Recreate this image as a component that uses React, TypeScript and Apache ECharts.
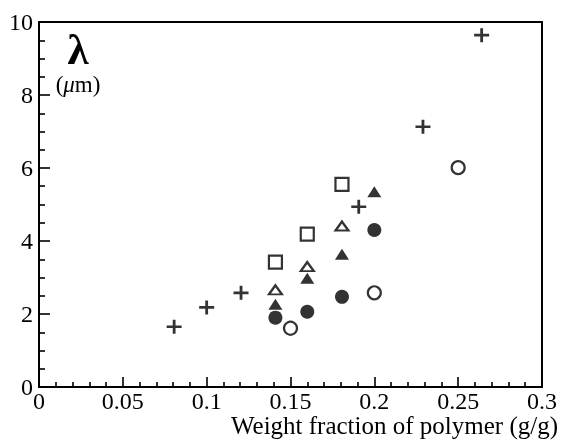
import React, { useEffect, useRef } from "react";
import * as echarts from "echarts";

// Plus markers
const plusX = [0.0806, 0.1, 0.1205, 0.1907, 0.229, 0.264];
const plusY = [1.65, 2.18, 2.58, 4.94, 7.13, 9.64];
// Open circles
const openCircleX = [0.15, 0.2, 0.25];
const openCircleY = [1.61, 2.58, 6.01];
// Filled circles
const filledCircleX = [0.141, 0.16, 0.1807, 0.2];
const filledCircleY = [1.9, 2.06, 2.47, 4.3];
// Filled triangles
const filledTriX = [0.141, 0.16, 0.1807, 0.2];
const filledTriY = [2.27, 2.98, 3.64, 5.35];
// Open triangles
const openTriX = [0.141, 0.16, 0.1807];
const openTriY = [2.66, 3.3, 4.41];
// Open squares
const openSquareX = [0.141, 0.16, 0.1807];
const openSquareY = [3.42, 4.19, 5.55];

const xMin = 0;
const xMax = 0.3;
const xStep = 0.05;
const yMin = 0;
const yMax = 10;
const yStep = 2;

const xTitle = "Weight fraction of polymer (g/g)";
const yTitleSymbol = "λ";

const FONT = "Liberation Serif";
const PLUS = "path://M6.5,0H9.5V6.5H16V9.5H9.5V16H6.5V9.5H0V6.5H6.5Z";

const pts = (xs: number[], ys: number[]) => xs.map((x, i) => [x, ys[i]]);

export default function App() {
  const ref = useRef<HTMLDivElement>(null);
  useEffect(() => {
    if (!ref.current) return;
    const chart = echarts.init(ref.current, undefined, { renderer: "svg" });
    const open = { color: "#fff", borderColor: "#000", borderWidth: 2.2 };
    const filled = { color: "#000" };
    const line = { show: true, onZero: false, lineStyle: { color: "#000", width: 2 } };
    const tickStyle = { color: "#000", width: 1.6 };
    chart.setOption({
      animation: false,
      grid: { left: 39, right: 19, top: 22, bottom: 53 },
      xAxis: [
        {
          type: "value",
          min: xMin,
          max: xMax,
          interval: xStep,
          axisLine: line,
          axisTick: { show: true, inside: true, length: 10, lineStyle: tickStyle },
          minorTick: { show: true, splitNumber: 5, length: 5, lineStyle: tickStyle },
          splitLine: { show: false },
          minorSplitLine: { show: false },
          axisLabel: { color: "#000", fontFamily: FONT, fontSize: 24, lineHeight: 20, margin: 4 },
        },
        {
          type: "value",
          position: "top",
          min: xMin,
          max: xMax,
          interval: xStep,
          axisLine: line,
          axisTick: { show: false },
          splitLine: { show: false },
          axisLabel: { show: false },
        },
      ],
      yAxis: [
        {
          type: "value",
          min: yMin,
          max: yMax,
          interval: yStep,
          axisLine: line,
          axisTick: { show: true, inside: true, length: 11, lineStyle: tickStyle },
          minorTick: { show: true, splitNumber: 4, length: 6, lineStyle: tickStyle },
          splitLine: { show: false },
          minorSplitLine: { show: false },
          axisLabel: { color: "#000", fontFamily: FONT, fontSize: 24, margin: 6 },
        },
        {
          type: "value",
          position: "right",
          min: yMin,
          max: yMax,
          interval: yStep,
          axisLine: line,
          axisTick: { show: false },
          splitLine: { show: false },
          axisLabel: { show: false },
        },
      ],
      graphic: [
        {
          type: "text",
          x: 558,
          y: 425,
          style: {
            text: xTitle,
            fontFamily: FONT,
            fontSize: 25,
            lineHeight: 22,
            fill: "#000",
            align: "right",
            verticalAlign: "middle",
          },
        },
        {
          type: "text",
          x: 78,
          y: 49,
          style: {
            text: yTitleSymbol,
            fontFamily: FONT,
            fontSize: 43,
            fontWeight: "bold",
            fill: "#000",
            align: "center",
            verticalAlign: "middle",
          },
        },
        {
          type: "text",
          x: 78,
          y: 84,
          style: {
            rich: {
              n: { fontFamily: FONT, fontSize: 23, fill: "#000" },
              i: { fontFamily: FONT, fontSize: 23, fontStyle: "italic", fill: "#000" },
            },
            text: "{n|(}{i|μ}{n|m)}",
            fontFamily: FONT,
            fontSize: 23,
            fill: "#000",
            align: "center",
            verticalAlign: "middle",
          },
        },
      ],
      series: [
        {
          type: "scatter",
          data: pts(plusX, plusY),
          symbol: PLUS,
          symbolSize: [15, 14],
          itemStyle: filled,
        },
        {
          type: "scatter",
          data: pts(openCircleX, openCircleY),
          symbol: "circle",
          symbolSize: 13,
          itemStyle: open,
        },
        {
          type: "scatter",
          data: pts(filledCircleX, filledCircleY),
          symbol: "circle",
          symbolSize: 14,
          itemStyle: filled,
        },
        {
          type: "scatter",
          data: pts(filledTriX, filledTriY),
          symbol: "triangle",
          symbolSize: [14, 11],
          itemStyle: filled,
        },
        {
          type: "scatter",
          data: pts(openTriX, openTriY),
          symbol: "triangle",
          symbolSize: [13, 9],
          itemStyle: open,
        },
        {
          type: "scatter",
          data: pts(openSquareX, openSquareY),
          symbol: "rect",
          symbolSize: 13,
          itemStyle: open,
        },
      ],
    });
    return () => chart.dispose();
  }, []);
  return (
    <div
      ref={ref}
      style={{ position: "fixed", left: 0, top: 0, width: 561, height: 440 }}
    />
  );
}
